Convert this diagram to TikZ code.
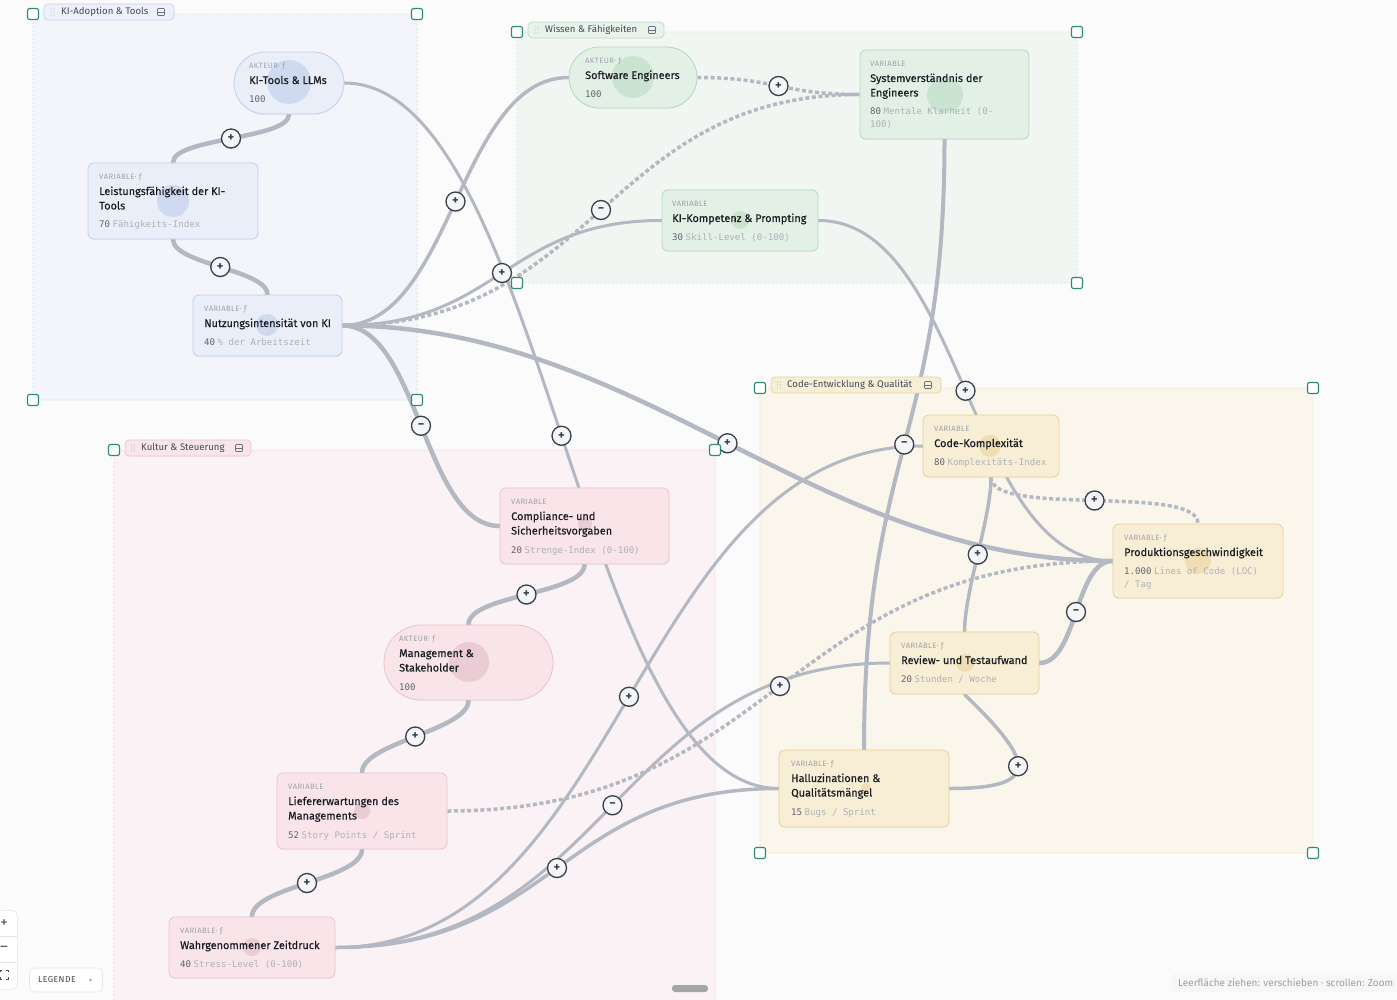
\documentclass[tikz,border=0pt]{standalone}
\usepackage{fontspec}
\setmainfont{Fira Sans}
\setmonofont{DejaVu Sans Mono}
\newfontfamily\lblfont{Fira Sans}[LetterSpace=5.0]
\newfontfamily\ttlfont{Fira Sans}[FakeBold=0.3]
\usetikzlibrary{calc,shadows,shapes.misc}
\pgfdeclarelayer{bg}\pgfdeclarelayer{edges}\pgfdeclarelayer{front}
\pgfsetlayers{bg,edges,main,front}

\definecolor{bgc}{HTML}{FBFBFB}
\definecolor{dotc}{HTML}{EBEBED}
\definecolor{edgec}{HTML}{B3B8C3}
\definecolor{ttlc}{HTML}{1A1D24}
\definecolor{lblc}{HTML}{9EA3AC}
\definecolor{valnc}{HTML}{5F646D}
\definecolor{valuc}{HTML}{ADB2B9}
\definecolor{signc}{HTML}{3A3F4B}
\definecolor{signf}{HTML}{F4F5F7}
\definecolor{handc}{HTML}{2B8A72}
\definecolor{chiptc}{HTML}{444957}
\definecolor{gripc}{HTML}{B5BAC4}
\definecolor{iconc}{HTML}{6B7080}
% blue
\definecolor{bGf}{HTML}{F3F5FB}\definecolor{bGd}{HTML}{D3DBEF}
\definecolor{bCf}{HTML}{EDF1FA}\definecolor{bCd}{HTML}{C6D0EC}
\definecolor{bNf}{HTML}{E9EEF9}\definecolor{bNd}{HTML}{C2CEEA}\definecolor{bBl}{HTML}{CBD6EE}
% green
\definecolor{gGf}{HTML}{F1F6F3}\definecolor{gGd}{HTML}{D2E6D9}
\definecolor{gCf}{HTML}{E8F3EB}\definecolor{gCd}{HTML}{BCDBC6}
\definecolor{gNf}{HTML}{E3F0E6}\definecolor{gNd}{HTML}{B5D8BF}\definecolor{gBl}{HTML}{C7E2CE}
% pink
\definecolor{pGf}{HTML}{FAF2F4}\definecolor{pGd}{HTML}{EFD2DA}
\definecolor{pCf}{HTML}{F8E6EB}\definecolor{pCd}{HTML}{ECC5D0}
\definecolor{pNf}{HTML}{F8E4E9}\definecolor{pNd}{HTML}{EBC2CE}\definecolor{pBl}{HTML}{E8C8D2}
% yellow
\definecolor{yGf}{HTML}{FAF6EC}\definecolor{yGd}{HTML}{EEDDB2}
\definecolor{yCf}{HTML}{F7EED6}\definecolor{yCd}{HTML}{E7D39F}
\definecolor{yNf}{HTML}{F8EED5}\definecolor{yNd}{HTML}{E8D196}\definecolor{yBl}{HTML}{EEDCAE}

\newcommand\valn[1]{{\color{valnc}#1}\hspace{2.5pt}}
\newcommand\valu[1]{{\color{valuc}#1}}
% one title line
\newcommand\crdone[7]{%
  \node[lbl] (#1-c) at (#2,#3+16.5) {#4};
  \node[ttl] (#1-t) at (#2,#3+32) {#5};
  \node[val] (#1-v) at (#2,#3+50.5) {\valn{#6}\valu{#7}};}
% two title lines
\newcommand\crdtwo[8]{%
  \node[lbl] (#1-c) at (#2,#3+16.5) {#4};
  \node[ttl] (#1-t) at (#2,#3+32) {#5};
  \node[ttl] (#1-u) at (#2,#3+46.5) {#6};
  \node[val] (#1-v) at (#2,#3+65) {\valn{#7}\valu{#8}};}
\newcommand\gripdots[2]{%
  \foreach \dx in {0,3} \foreach \dy in {-3,0,3} \fill[gripc] (#1+\dx,#2+\dy) circle (0.65pt);}
\newcommand\collapseicon[2]{%
  \draw[iconc, line width=.6pt, rounded corners=.8pt] (#1-3.5,#2-3.5) rectangle (#1+3.5,#2+3.5);
  \draw[iconc, line width=.6pt] (#1-3.5,#2) -- (#1+3.5,#2);}

\begin{document}
\begin{tikzpicture}[x=1pt,y=-1pt,
  card/.style={rectangle, rounded corners=6pt, line width=.8pt, inner sep=0pt,
    drop shadow={shadow xshift=0pt,shadow yshift=-1.2pt,opacity=.06}},
  pill/.style={rounded rectangle, line width=.8pt, inner sep=0pt,
    drop shadow={shadow xshift=0pt,shadow yshift=-1.2pt,opacity=.06}},
  lbl/.style={anchor=base west, inner sep=0pt, text=lblc, font=\lblfont\fontsize{7.7}{8}\selectfont},
  ttl/.style={anchor=base west, inner sep=0pt, text=ttlc, font=\ttlfont\fontsize{10.9}{12}\selectfont},
  val/.style={anchor=base west, inner sep=0pt, font=\ttfamily\fontsize{9.1}{10}\selectfont},
  edge/.style={draw=edgec, line width=3pt, line cap=round},
  thk/.style={edge, line width=4.5pt},
  dsh/.style={draw=edgec, line width=3.5pt, dash pattern=on 4pt off 2.6pt},
  sgn/.style={circle, minimum size=19pt, inner sep=0pt, fill=signf, draw=signc, line width=1.3pt,
    text=signc, font=\bfseries\fontsize{12.5}{12.5}\selectfont,
    drop shadow={shadow xshift=0pt,shadow yshift=-1pt,opacity=.25}},
  hdl/.style={rectangle, rounded corners=2pt, minimum size=11pt, inner sep=0pt, draw=handc,
    line width=1.1pt, fill=white},
  grp/.style={rounded corners=4pt, line width=.6pt, dash pattern=on 2pt off 2pt},
  chip/.style={rectangle, rounded corners=4pt, line width=.7pt, inner sep=0pt},
  chiptxt/.style={anchor=west, inner sep=0pt, text=chiptc, font=\fontsize{9.6}{11}\selectfont},
  uibox/.style={rectangle, rounded corners=5pt, fill=white, draw=black!10, line width=.6pt, inner sep=0pt},
]
\useasboundingbox (0,0) rectangle (1397,1000);

% ---------------- background, groups ----------------
\begin{pgfonlayer}{bg}
\fill[bgc] (0,0) rectangle (1397,1000);
\foreach \x in {10,30,...,1390} \foreach \y in {10,30,...,990} \fill[dotc] (\x,\y) circle (0.7pt);
\filldraw[grp, fill=bGf, draw=bGd] (33,14) rectangle (417,400);
\filldraw[grp, fill=gGf, draw=gGd] (517,32) rectangle (1077,283);
\filldraw[grp, fill=pGf, draw=pGd] (114,450) rectangle (715,1008);
\filldraw[grp, fill=yGf, draw=yGd] (760,388) rectangle (1313,853);
\end{pgfonlayer}

% ---------------- cards ----------------
\node[pill, fill=bNf, draw=bNd, minimum width=110pt, minimum height=62pt] (kitools) at (289,83) {};
\node[card, fill=bNf, draw=bNd, minimum width=170pt, minimum height=76pt] (leist) at (173,201) {};
\node[card, fill=bNf, draw=bNd, minimum width=149pt, minimum height=61pt] (nutz) at (267.5,325.5) {};
\node[pill, fill=gNf, draw=gNd, minimum width=128pt, minimum height=61pt] (sweng) at (633,77.5) {};
\node[card, fill=gNf, draw=gNd, minimum width=169pt, minimum height=89pt] (sysv) at (944.5,94.5) {};
\node[card, fill=gNf, draw=gNd, minimum width=156pt, minimum height=61pt] (kikomp) at (740,220.5) {};
\node[card, fill=pNf, draw=pNd, minimum width=169pt, minimum height=76pt] (compl) at (584.5,526) {};
\node[pill, fill=pNf, draw=pNd, minimum width=169pt, minimum height=75pt] (mgmt) at (468.5,662.5) {};
\node[card, fill=pNf, draw=pNd, minimum width=170pt, minimum height=76pt] (liefer) at (362,811) {};
\node[card, fill=pNf, draw=pNd, minimum width=166pt, minimum height=61pt] (zeit) at (252,947.5) {};
\node[card, fill=yNf, draw=yNd, minimum width=136pt, minimum height=62pt] (codek) at (991,446) {};
\node[card, fill=yNf, draw=yNd, minimum width=170pt, minimum height=74pt] (prod) at (1198,561) {};
\node[card, fill=yNf, draw=yNd, minimum width=149pt, minimum height=62pt] (review) at (964.5,663) {};
\node[card, fill=yNf, draw=yNd, minimum width=170pt, minimum height=77pt] (hall) at (864,788.5) {};

% blobs
\fill[bBl, opacity=.85] (289,82) circle (22pt);
\fill[bBl, opacity=.85] (173,201) circle (16pt);
\fill[bBl, opacity=.85] (267,325) circle (11pt);
\fill[gBl, opacity=.85] (633,77) circle (21pt);
\fill[gBl, opacity=.85] (945,95) circle (18pt);
\fill[gBl, opacity=.85] (740,220) circle (9pt);
\fill[pBl, opacity=.85] (585,524) circle (7pt);
\fill[pBl, opacity=.85] (469,662) circle (20pt);
\fill[pBl, opacity=.85] (362,811) circle (8pt);
\fill[pBl, opacity=.85] (252,947) circle (9pt);
\fill[yBl, opacity=.85] (990,446) circle (11pt);
\fill[yBl, opacity=.85] (1198,561) circle (13pt);
\fill[yBl, opacity=.85] (965,663) circle (9pt);
\fill[yBl, opacity=.85] (866,788) circle (5pt);

% card texts
\crdone{kitools}{249}{52}{AKTEUR·\ ƒ}{KI-Tools \& LLMs}{100}{}
\crdtwo{leist}{99}{163}{VARIABLE·\ ƒ}{Leistungsfähigkeit der KI-}{Tools}{70}{Fähigkeits-Index}
\crdone{nutz}{204}{295}{VARIABLE·\ ƒ}{Nutzungsintensität von KI}{40}{\% der Arbeitszeit}
\crdone{sweng}{585}{47}{AKTEUR·\ ƒ}{Software Engineers}{100}{}
\crdtwo{sysv}{870}{50}{VARIABLE}{Systemverständnis der}{Engineers}{80}{Mentale Klarheit (0-}
\node[val] (sysv-w) at (870,127.5) {\valu{100)}};
\crdone{kikomp}{672}{190}{VARIABLE}{KI-Kompetenz \& Prompting}{30}{Skill-Level (0-100)}
\crdtwo{compl}{511}{488}{VARIABLE}{Compliance- und}{Sicherheitsvorgaben}{20}{Strenge-Index (0-100)}
\crdtwo{mgmt}{399}{625}{AKTEUR·\ ƒ}{Management \&}{Stakeholder}{100}{}
\crdtwo{liefer}{288}{773}{VARIABLE}{Liefererwartungen des}{Managements}{52}{Story Points / Sprint}
\crdone{zeit}{180}{917}{VARIABLE·\ ƒ}{Wahrgenommener Zeitdruck}{40}{Stress-Level (0-100)}
\crdone{codek}{934}{415}{VARIABLE}{Code-Komplexität}{80}{Komplexitäts-Index}
\crdone{prod}{1124}{524}{VARIABLE·\ ƒ}{Produktionsgeschwindigkeit}{1.000}{Lines of Code (LOC)}
\node[val] (prod-w) at (1124,587.5) {\valu{/ Tag}};
\crdone{review}{901}{632}{VARIABLE·\ ƒ}{Review- und Testaufwand}{20}{Stunden / Woche}
\crdtwo{hall}{791}{750}{VARIABLE·\ ƒ}{Halluzinationen \&}{Qualitätsmängel}{15}{Bugs / Sprint}

% ---------------- edges ----------------
\begin{pgfonlayer}{edges}
\draw[thk] (kitools.south) .. controls +(0,25) and +(0,-25) .. (leist.north) coordinate[pos=.5] (m1);
\draw[thk] (leist.south) .. controls +(0,25) and +(0,-25) .. (nutz.north) coordinate[pos=.5] (m2);
\draw[edge] (kitools.east) .. controls +(200,0) and +(-200,0) .. (hall.west) coordinate[pos=.5] (m3);
\draw[edge, line width=3.5pt] (nutz.east) .. controls +(110,0) and +(-110,0) .. (sweng.west) coordinate[pos=.5] (m4);
\draw[edge] (nutz.east) .. controls +(156,0) and +(-156,0) .. (kikomp.west) coordinate[pos=.5] (m5);
\draw[dsh] (nutz.east) .. controls +(255,0) and +(-255,0) .. (sysv.west) coordinate[pos=.5] (m6);
\draw[thk] (nutz.east) .. controls +(76,0) and +(-76,0) .. (compl.west) coordinate[pos=.5] (m7);
\draw[thk] (nutz.east) .. controls +(300,0) and +(-300,0) .. (prod.west) coordinate[pos=.5] (m8);
\draw[dsh] (sweng.east) .. controls +(78,0) and +(-78,0) .. (sysv.west) coordinate[pos=.5] (m9);
\draw[edge, line width=4pt] (sysv.south) .. controls +(0,300) and +(0,-300) .. (hall.north) coordinate[pos=.5] (m10);
\draw[edge] (kikomp.east) .. controls +(145,0) and +(-145,0) .. (prod.west) coordinate[pos=.5] (m11);
\draw[dsh] (codek.south) .. controls +(0,40) and +(0,-40) .. (prod.north) coordinate[pos=.5] (m12);
\draw[edge, line width=3.5pt] (codek.south) .. controls +(0,40) and +(0,-40) .. (review.north) coordinate[pos=.5] (m13);
\draw[thk] (review.east) .. controls +(38,0) and +(-38,0) .. (prod.west) coordinate[pos=.5] (m14);
\draw[edge, line width=3.5pt] (hall.east) .. controls +(95,0) and +(68,66) .. (review.south) coordinate[pos=.5] (m15);
\draw[thk] (mgmt.south) .. controls +(0,30) and +(0,-30) .. (liefer.north) coordinate[pos=.5] (m16);
\draw[thk] (liefer.south) .. controls +(0,30) and +(0,-30) .. (zeit.north) coordinate[pos=.5] (m17);
\draw[dsh] (liefer.east) .. controls +(330,0) and +(-330,0) .. (prod.west) coordinate[pos=.5] (m18);
\draw[edge] (zeit.east) .. controls +(290,0) and +(-290,0) .. (codek.west) coordinate[pos=.5] (m19);
\draw[edge] (zeit.east) .. controls +(275,0) and +(-275,0) .. (review.west) coordinate[pos=.5] (m20);
\draw[edge, line width=3.5pt] (zeit.east) .. controls +(220,0) and +(-220,0) .. (hall.west) coordinate[pos=.5] (m21);
\draw[thk] (mgmt.north) .. controls +(0,-30) and +(0,30) .. (compl.south) coordinate[pos=.5] (m23);
\end{pgfonlayer}

% ---------------- signs, chips, handles, UI ----------------
\begin{pgfonlayer}{front}
\node[sgn] (s1) at (m1) {+};
\node[sgn] (s2) at (m2) {+};
\node[sgn] (s3) at (m3) {+};
\node[sgn] (s4) at (m4) {+};
\node[sgn] (s5) at (m5) {+};
\node[sgn] (s6) at (m6) {−};
\node[sgn] (s7) at (m7) {−};
\node[sgn] (s8) at (m8) {+};
\node[sgn] (s9) at (m9) {+};
\node[sgn] (s10) at (m10) {−};
\node[sgn] (s11) at (m11) {+};
\node[sgn] (s12) at (m12) {+};
\node[sgn] (s13) at (m13) {+};
\node[sgn] (s14) at (m14) {−};
\node[sgn] (s15) at (m15) {+};
\node[sgn] (s16) at (m16) {+};
\node[sgn] (s17) at (m17) {+};
\node[sgn] (s18) at (m18) {+};
\node[sgn] (s19) at (m19) {+};
\node[sgn] (s20) at (m20) {−};
\node[sgn] (s21) at (m21) {+};
\node[sgn] (s23) at (m23) {+};

% group chips
\node[chip, fill=bCf, draw=bCd, minimum width=130pt, minimum height=16pt] (cki) at (109,12) {};
\gripdots{51}{12}
\node[chiptxt] (cki-t) at (61,12) {KI-Adoption \& Tools};
\collapseicon{161}{12}
\node[chip, fill=gCf, draw=gCd, minimum width=136pt, minimum height=16pt] (cwi) at (596,30) {};
\gripdots{535}{30}
\node[chiptxt] (cwi-t) at (545,30) {Wissen \& Fähigkeiten};
\collapseicon{652}{30}
\node[chip, fill=pCf, draw=pCd, minimum width=126pt, minimum height=16pt] (cku) at (188,448) {};
\gripdots{131.5}{448}
\node[chiptxt] (cku-t) at (141,448) {Kultur \& Steuerung};
\collapseicon{239}{448}
\node[chip, fill=yCf, draw=yCd, minimum width=170pt, minimum height=16pt] (cco) at (856,385) {};
\gripdots{777.5}{385}
\node[chiptxt] (cco-t) at (787,385) {Code-Entwicklung \& Qualität};
\collapseicon{928}{385}

% handles
\node[hdl] (h1) at (33,14) {};   \node[hdl] (h2) at (417,14) {};
\node[hdl] (h3) at (33,400) {};  \node[hdl] (h4) at (417,400) {};
\node[hdl] (h5) at (517,32) {};  \node[hdl] (h6) at (1077,32) {};
\node[hdl] (h7) at (517,283) {}; \node[hdl] (h8) at (1077,283) {};
\node[hdl] (h9) at (114,450) {}; \node[hdl] (h10) at (715,450) {};
\node[hdl] (h11) at (760,388) {}; \node[hdl] (h12) at (1313,388) {};
\node[hdl] (h13) at (760,853) {}; \node[hdl] (h14) at (1313,853) {};

% zoom controls
\node[uibox, minimum width=27pt, minimum height=79pt, anchor=north west] (zbox) at (-10,910) {};
\draw[black!10, line width=.6pt] (-10,936) -- (17,936);
\draw[black!10, line width=.6pt] (-10,962) -- (17,962);
\node[inner sep=0pt, text=black!70, font=\fontsize{15}{15}\selectfont] (zplus) at (4,923.5) {+};
\node[inner sep=0pt, text=black!70, font=\fontsize{15}{15}\selectfont] (zminus) at (4,948.5) {–};
\draw[black!70, line width=.9pt] (0,972) -- (0,970) -- (2,970) (6,970) -- (8,970) -- (8,972)
  (0,977) -- (0,979) -- (2,979) (6,979) -- (8,979) -- (8,977);
% legend button
\node[uibox, minimum width=73pt, minimum height=24pt] (legend) at (66,980) {};
\node[inner sep=0pt, anchor=west, text=black!72, font=\lblfont\fontsize{8.6}{9}\selectfont] (legend-t) at (38,980) {LEGENDE};
\fill[black!40] (89.5,978.3) -- (92,980) -- (89.5,981.7) -- cycle;
% scrollbar
\fill[black!35, rounded corners=3pt] (672,985) rectangle (708,992);
% hint
\node[rectangle, rounded corners=4pt, fill=black!3, minimum width=230pt, minimum height=19pt, inner sep=0pt] (hint) at (1287,982.5) {};
\node[inner sep=0pt, anchor=west, text=black!38, font=\fontsize{10}{11}\selectfont] (hint-t) at (1178,982.5) {Leerfläche ziehen: verschieben · scrollen: Zoom};
\end{pgfonlayer}
\end{tikzpicture}
\end{document}
